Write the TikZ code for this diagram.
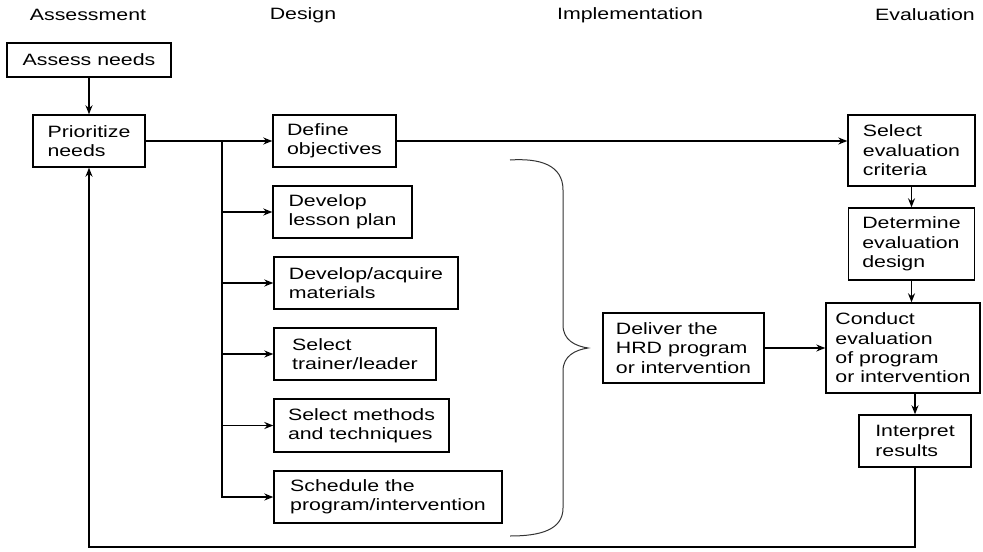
\documentclass[tikz,border=0pt]{standalone}
\usepackage{fontspec}
\setmainfont[FakeStretch=1.3]{Liberation Sans}
\usetikzlibrary{arrows.meta, positioning}
\tikzset{%
	box/.style={draw, rectangle, align=left, inner sep=0mm, line width=0.7pt,%
		font=\fontsize{8.2}{9.7}\selectfont},
	head/.style={font=\fontsize{8.2}{9.7}\selectfont},
	connector/.style={line width=0.7pt},
	sel/.style={-{Stealth[length=4.5pt, width=3.5pt]}, line width=0.7pt},
	brace/.style={line width=0.5pt, black!80}
}
\begin{document}
\begin{tikzpicture}[x=0.5pt, y=-0.5pt]
		\useasboundingbox (0,0) rectangle (983,551);
		\node[head] (h-ass)  at (88,15)  {Assessment};
		\node[head] (h-des)  at (303,15) {Design};
		\node[head] (h-imp)  at (630,15) {Implementation};
		\node[head] (h-eva)  at (925,15) {Evaluation};

		\node[box, minimum width=82pt, minimum height=17pt] (assess) at (89,60) {Assess needs};
		\node[box, minimum width=56pt, minimum height=26pt] (prior) at (89,141) {Prioritize\\needs};

		\node[box, minimum width=61.5pt, minimum height=26pt] (define) at (334.5,141) {Define\\objectives};
		\node[box, minimum width=69.5pt, minimum height=26pt] (lesson) at (342.5,212) {Develop\\lesson plan};
		\node[box, minimum width=92pt, minimum height=26pt] (mater) at (366,283) {Develop/acquire\\materials};
		\node[box, minimum width=81pt, minimum height=26pt] (trainer) at (355,354) {Select\\trainer/leader};
		\node[box, minimum width=87.5pt, minimum height=26.5pt] (methods) at (361.5,425.5) {Select methods\\and techniques};
		\node[box, minimum width=114pt, minimum height=26pt] (sched) at (388,497) {Schedule the\\program/intervention};

		\node[box, minimum width=80.5pt, minimum height=35pt] (deliver) at (683.5,348) {Deliver the\\HRD program\\or intervention};

		\node[box, minimum width=63.5pt, minimum height=35.5pt] (crit) at (911.5,150.5) {Select\\evaluation\\criteria};
		\node[box, minimum width=63pt, minimum height=36pt] (edesign) at (911.5,244) {Determine\\evaluation\\design};
		\node[box, minimum width=77pt, minimum height=45pt] (conduct) at (903,348) {Conduct\\evaluation\\of program\\or intervention};
		\node[box, minimum width=56pt, minimum height=26pt] (interp) at (915,441) {Interpret\\results};

		\coordinate (trunk) at (222,141);
		\coordinate (back) at (89,547);

		\draw [sel] (assess) to (prior);
		\draw [sel] (prior) to (define);
		\draw [sel] (trunk) |- (lesson.west);
		\draw [sel] (trunk) |- (mater.west);
		\draw [sel] (trunk) |- (trainer.west);
		\draw [sel] (trunk) |- (methods.west);
		\draw [sel] (trunk) |- (sched.west);
		\draw [sel] (define) to (define -| crit.west);
		\draw [sel] (crit) to (edesign);
		\draw [sel] (edesign.south) to (edesign.south |- conduct.north);
		\draw [sel] (conduct.south -| interp.south) to (interp);
		\draw [sel] (deliver) to (conduct);
		\draw [sel] (interp.south) |- (back) -- (prior.south);

		% brace in front of the delivery step
		\draw [brace] (510,160) .. controls (540,158) and (563,165) .. (563,190)
			-- (563,325) .. controls (563,340) and (575,346) .. (588,348)
			.. controls (575,350) and (563,356) .. (563,371)
			-- (563,508) .. controls (563,530) and (540,536) .. (510,536);
	\end{tikzpicture}
\end{document}
